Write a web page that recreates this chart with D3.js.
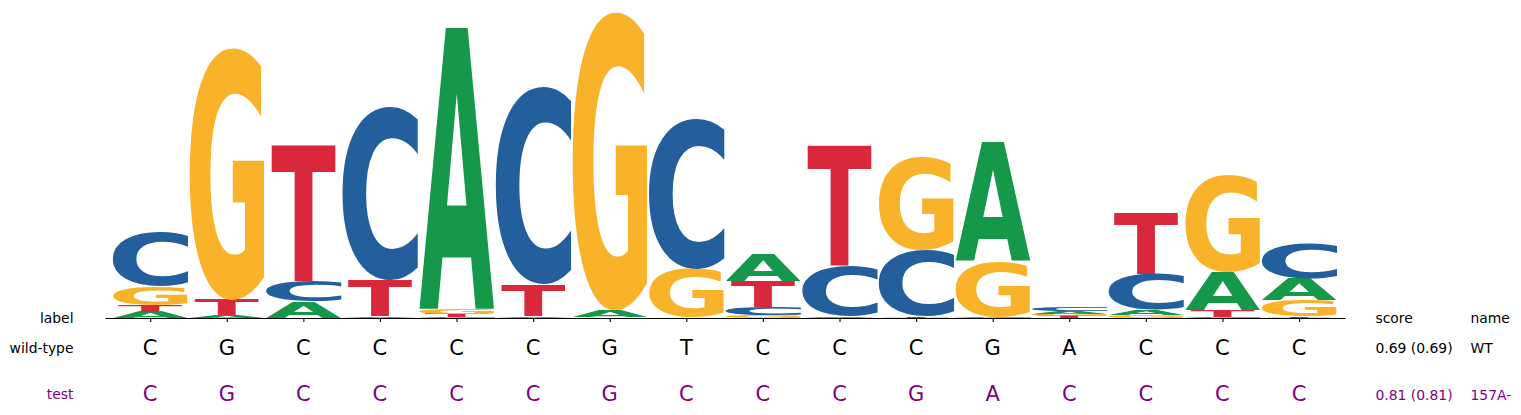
<!DOCTYPE html>
<html>
<head>
<meta charset="utf-8">
<script src="https://cdn.jsdelivr.net/npm/d3@7"></script>
<style>
  html, body { margin: 0; padding: 0; background: #fff; }
  svg { display: block; }
  text { font-family: "DejaVu Sans", sans-serif; }
</style>
</head>
<body>
<svg id="chart" width="1521" height="415"></svg>
<script>
// ---- data (information content, bits) ----
const positions = d3.range(16);
const valA = [0.039, 0.013, 0.103, 0.010, 1.813, 0.010, 0.042, 0.003, 0.174, 0.010, 0.003, 0.761, 0.018, 0.032, 0.245, 0.142];
const valC = [0.348, 0.003, 0.129, 1.116, 0.005, 1.277, 0.003, 0.974, 0.052, 0.323, 0.426, 0.006, 0.023, 0.232, 0.006, 0.226];
const valG = [0.119, 1.630, 0.002, 0.003, 0.032, 0.003, 1.929, 0.310, 0.016, 0.003, 0.600, 0.358, 0.016, 0.019, 0.626, 0.103];
const valT = [0.045, 0.099, 0.877, 0.232, 0.023, 0.205, 0.003, 0.003, 0.168, 0.774, 0.010, 0.003, 0.013, 0.400, 0.045, 0.010];

const rowLabels = ["label", "wild-type", "test"];
const wildType = ["C","G","C","C","C","C","G","T","C","C","C","G","A","C","C","C"];
const testSeq  = ["C","G","C","C","C","C","G","C","C","C","G","A","C","C","C","C"];
const scoreHeader = "score";
const nameHeader = "name";
const scores = ["0.69 (0.69)", "0.81 (0.81)"];
const names = ["WT", "157A-"];

const colors = { A: "#16984a", C: "#235f9c", G: "#f9b32a", T: "#d9283c" };
const purple = "#800080";

// ---- layout ----
const svg = d3.select("#chart");
const x = d3.scaleLinear().domain([-0.59, 15.6]).range([105, 1345]);
const y = d3.scaleLinear().domain([0, 2]).range([318, 8]);
const step = x(1) - x(0);

// glyph ink metrics
const cv = document.createElement("canvas");
const ctx = cv.getContext("2d");
const FS = 200;
ctx.font = `bold ${FS}px "DejaVu Sans"`;
const metrics = {};
["A","C","G","T"].forEach(ch => {
  const m = ctx.measureText(ch);
  metrics[ch] = { L: m.actualBoundingBoxLeft, R: m.actualBoundingBoxRight,
                  A: m.actualBoundingBoxAscent, D: m.actualBoundingBoxDescent };
});
const widthFrac = { A: 0.98, C: 0.99, G: 0.98, T: 0.84 };

const stacks = positions.map(i => {
  const items = [
    { ch: "A", v: valA[i] }, { ch: "C", v: valC[i] },
    { ch: "G", v: valG[i] }, { ch: "T", v: valT[i] }
  ].sort((a, b) => a.v - b.v);
  let base = 0;
  return items.map(it => { const o = { pos: i, ch: it.ch, y0: base, y1: base + it.v }; base += it.v; return o; });
}).flat();

const gLogo = svg.append("g");
gLogo.selectAll("text.glyph").data(stacks).enter().append("text")
  .attr("class", "glyph")
  .attr("font-size", FS)
  .attr("font-weight", "bold")
  .attr("fill", d => colors[d.ch])
  .attr("transform", d => {
    const m = metrics[d.ch];
    const bw = step * widthFrac[d.ch];
    const bx = x(d.pos) - bw / 2;
    const by = y(d.y1);
    const bh = y(d.y0) - y(d.y1);
    const sx = bw / (m.L + m.R);
    const sy = bh / (m.A + m.D);
    return `translate(${bx},${by}) scale(${sx},${sy}) translate(${m.L},${m.A})`;
  })
  .text(d => d.ch);

// axis
const axis = d3.axisBottom(x).tickValues(positions).tickFormat("").tickSize(4).tickSizeOuter(0);
const gAxis = svg.append("g").attr("transform", `translate(0,${y(0)})`).call(axis);
gAxis.selectAll("path, line").attr("stroke", "#000").attr("stroke-width", 1.1);
gAxis.selectAll(".tick text").remove();

// row labels
const labX = 73.5;
const rowBase = [322.5, 352.5, 399];
svg.selectAll("text.rowlab").data(rowLabels).enter().append("text")
  .attr("class", "rowlab")
  .attr("x", labX).attr("y", (d, i) => rowBase[i])
  .attr("text-anchor", "end").attr("font-size", 13.9)
  .attr("fill", (d, i) => i === 2 ? purple : "#000")
  .text(d => d);

// sequences
svg.selectAll("text.wt").data(wildType).enter().append("text")
  .attr("class", "wt")
  .attr("x", (d, i) => x(i)).attr("y", 354.5)
  .attr("text-anchor", "middle").attr("font-size", 21)
  .attr("fill", "#000").text(d => d);
svg.selectAll("text.ts").data(testSeq).enter().append("text")
  .attr("class", "ts")
  .attr("x", (d, i) => x(i)).attr("y", 401)
  .attr("text-anchor", "middle").attr("font-size", 21)
  .attr("fill", purple).text(d => d);

// score / name columns
const scoreX = 1375.5, nameX = 1470.5;
svg.append("text").attr("x", scoreX).attr("y", 322.5).attr("font-size", 13.9).text(scoreHeader);
svg.append("text").attr("x", nameX).attr("y", 322.5).attr("font-size", 13.9).text(nameHeader);
svg.selectAll("text.score").data(scores).enter().append("text")
  .attr("class", "score")
  .attr("x", scoreX).attr("y", (d, i) => i === 0 ? 353 : 399.5)
  .attr("font-size", 13.9).attr("fill", (d, i) => i === 1 ? purple : "#000").text(d => d);
svg.selectAll("text.name").data(names).enter().append("text")
  .attr("class", "name")
  .attr("x", nameX).attr("y", (d, i) => i === 0 ? 353 : 399.5)
  .attr("font-size", 13.9).attr("fill", (d, i) => i === 1 ? purple : "#000").text(d => d);
</script>
</body>
</html>
